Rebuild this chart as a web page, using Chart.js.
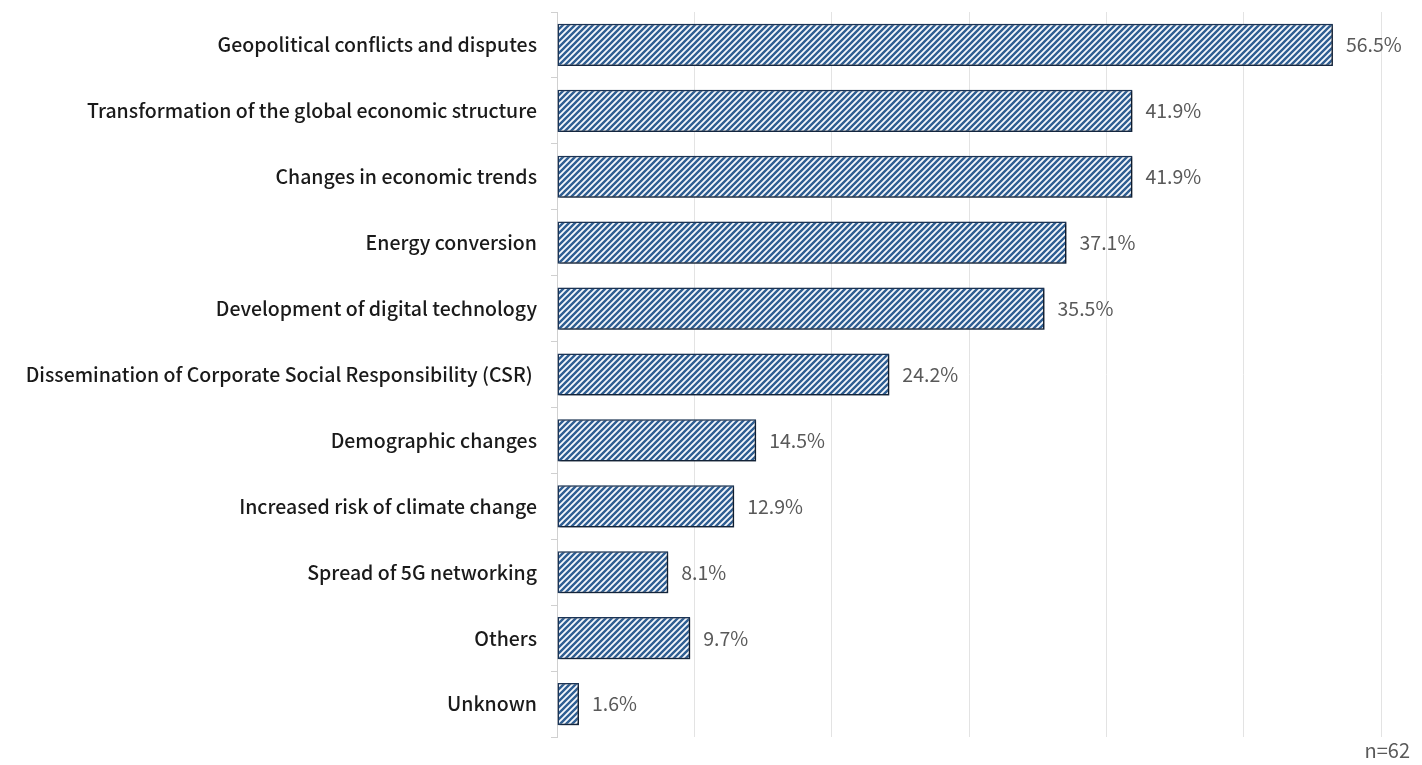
<!DOCTYPE html>
<html>
<head>
<meta charset="utf-8">
<script src="https://cdn.jsdelivr.net/npm/chart.js@4.4.0/dist/chart.umd.min.js"></script>
<style>
    html, body { margin: 0; padding: 0; background: #ffffff; }
    #wrap { position: relative; width: 1422px; height: 765px; }
    #main-chart { display: block; }
    #note {
        position: absolute;
        right: 12px;
        top: 735px;
        font-family: "Noto Sans CJK JP", "Noto Sans", sans-serif;
        font-size: 20px;
        color: #595959;
    }
</style>
</head>
<body>
<div id="wrap">
    <canvas id="main-chart" width="1422" height="765"></canvas>
    <div id="note">n=62</div>
</div>
<script>
const categories = [
    "Geopolitical conflicts and disputes",
    "Transformation of the global economic structure",
    "Changes in economic trends",
    "Energy conversion",
    "Development of digital technology",
    "Dissemination of Corporate Social Responsibility (CSR) ",
    "Demographic changes",
    "Increased risk of climate change",
    "Spread of 5G networking",
    "Others",
    "Unknown",
];
const shareValues = [56.5, 41.9, 41.9, 37.1, 35.5, 24.2, 14.5, 12.9, 8.1, 9.7, 1.6];
const xTicks = [0, 10, 20, 30, 40, 50, 60];

// diagonal stripe fill like the original hatch
function makeStripes() {
    const tile = document.createElement("canvas");
    tile.width = 6;
    tile.height = 6;
    const t = tile.getContext("2d");
    t.fillStyle = "#f6f8fc";
    t.fillRect(0, 0, 6, 6);
    t.strokeStyle = "#2f5e92";
    t.lineWidth = 2.4;
    t.beginPath();
    t.moveTo(-1, 7);
    t.lineTo(7, -1);
    t.moveTo(-4, 4);
    t.lineTo(4, -4);
    t.moveTo(2, 10);
    t.lineTo(10, 2);
    t.stroke();
    return t.createPattern(tile, "repeat");
}

const barShadow = {
    id: "barShadow",
    beforeDatasetDraw(chart) {
        const ctx = chart.ctx;
        ctx.save();
        ctx.shadowColor = "rgba(0, 0, 0, 0.55)";
        ctx.shadowBlur = 2;
        ctx.shadowOffsetX = 2;
        ctx.shadowOffsetY = 1;
    },
    afterDatasetDraw(chart) {
        chart.ctx.restore();
    },
};

const valueLabels = {
    id: "valueLabels",
    afterDatasetsDraw(chart) {
        const ctx = chart.ctx;
        const meta = chart.getDatasetMeta(0);
        ctx.save();
        ctx.font = "19.5px 'Noto Sans CJK JP', 'Noto Sans', sans-serif";
        ctx.fillStyle = "#595959";
        ctx.textAlign = "left";
        ctx.textBaseline = "middle";
        meta.data.forEach((bar, i) => {
            ctx.fillText(shareValues[i].toFixed(1) + "%", bar.x + 13, bar.y);
        });
        ctx.restore();
    },
};

const chartCanvas = document.getElementById("main-chart");

const mainChart = new Chart(chartCanvas, {
    type: "bar",
    data: {
        labels: categories,
        datasets: [
            {
                data: shareValues,
                backgroundColor: makeStripes(),
                borderColor: "#1c3557",
                borderWidth: 1.5,
                borderSkipped: false,
                categoryPercentage: 1,
                barPercentage: 0.64,
            },
        ],
    },
    options: {
        indexAxis: "y",
        responsive: false,
        animation: false,
        layout: {
            padding: { top: 12, left: 0, right: 41, bottom: 28 },
        },
        scales: {
            x: {
                min: 0,
                max: 60,
                afterBuildTicks: (scale) => {
                    scale.ticks = xTicks.map((v) => ({ value: v }));
                },
                ticks: { display: false },
                grid: { color: "#e3e3e3", drawTicks: false },
                border: { display: false },
                afterFit: (scale) => {
                    scale.height = 0;
                },
            },
            y: {
                ticks: {
                    color: "#1a1a1a",
                    padding: 14,
                    font: {
                        family: "'Noto Sans CJK JP', 'Noto Sans', sans-serif",
                        size: 19.5,
                        weight: 500,
                    },
                },
                grid: {
                    drawOnChartArea: false,
                    drawTicks: true,
                    tickLength: 6,
                    color: "#d0d0d0",
                },
                border: { display: true, color: "#d0d0d0" },
                afterFit: (scale) => {
                    scale.width = 557;
                    scale.paddingTop = 0;
                    scale.paddingBottom = 0;
                },
            },
        },
        plugins: {
            legend: { display: false },
            tooltip: { enabled: false },
        },
    },
    plugins: [barShadow, valueLabels],
});
</script>
</body>
</html>
